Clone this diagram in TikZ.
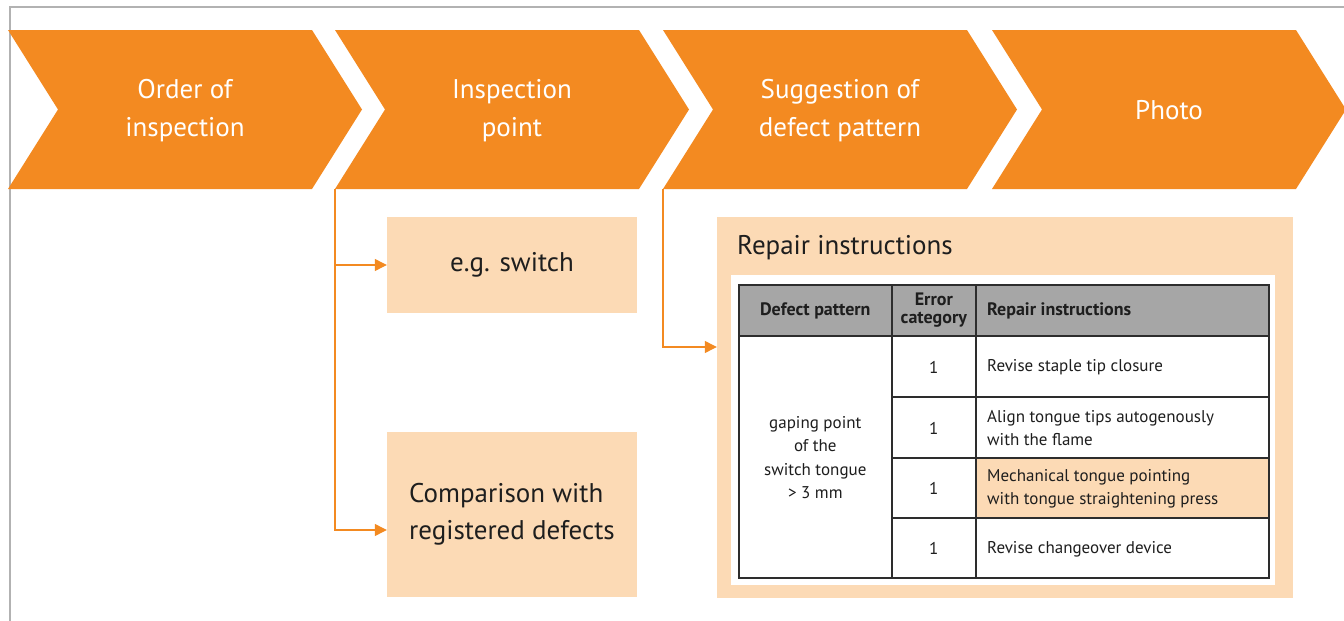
\documentclass[tikz,border=0pt]{standalone}
\usepackage{fontspec}
\setmainfont{PT Sans}
\usetikzlibrary{arrows.meta}

\definecolor{dborange}{RGB}{243,138,33}
\definecolor{peach}{RGB}{252,218,181}
\definecolor{hdrgray}{RGB}{166,166,166}
\definecolor{gridline}{RGB}{45,45,45}
\definecolor{framegray}{RGB}{178,178,178}
\definecolor{ink}{RGB}{30,30,30}

% one step of the process bar: name, left x, label
\newcommand\drawchevron[3]{%
  \fill[dborange] (#2,30) -- ++(304,0) -- ++(50,79.5) -- ++(-50,79.5)
        -- ++(-304,0) -- ++(50,-79.5) -- cycle;
  \node[chevtext] (#1) at (#2+177,110.5) {#3};
  \coordinate (#1-foot) at (#2,189);
}

\begin{document}
\begin{tikzpicture}[x=1pt,y=-1pt,
  chevtext/.style={text=white, font=\fontsize{27}{38}\selectfont, align=center, inner sep=0pt},
  lightbox/.style={fill=peach, draw=none, inner sep=0pt},
  bigtext/.style={font=\fontsize{27}{37}\selectfont, text=ink, align=left},
  cell/.style={draw=gridline, line width=1.6pt, inner sep=0pt, anchor=north west},
  celltext/.style={font=\fontsize{17}{23.5}\selectfont, text=ink, inner sep=0pt},
  headtext/.style={font=\bfseries\fontsize{18}{18.5}\selectfont, text=ink, inner sep=0pt, align=center},
  flow/.style={draw=dborange, line width=1.2pt, -{Triangle[length=12pt,width=12pt]}},
]
\useasboundingbox (0,0) rectangle (1344,621);

% outer frame
\draw[framegray, line width=2pt] (10,621) -- (10,7) -- (1344,7);

% process bar
\drawchevron{c1}{8}{Order of\\inspection}
\drawchevron{c2}{335}{Inspection\\point}
\drawchevron{c3}{663}{Suggestion of\\defect pattern}
\drawchevron{c4}{992}{Photo}

% inspection point boxes
\node[lightbox, minimum width=250, minimum height=96, bigtext] (sw) at (512,265) {e.g. switch};
\node[lightbox, minimum width=250, minimum height=165, bigtext] (cmp) at (512,514.5)
  {Comparison with\\registered defects};

% repair instructions panel
\node[lightbox, minimum width=576, minimum height=381] (rep) at (1005,407.5) {};
\node[fill=white, inner sep=0pt, minimum width=544, minimum height=310] (panel) at (1003,430) {};
\node[bigtext, anchor=west, inner sep=0pt] (reptitle) at (737,247.5) {Repair instructions};

% table: header row
\node[cell, fill=hdrgray, minimum width=153, minimum height=51] (h1) at (738,284) {};
\node[cell, fill=hdrgray, minimum width=84,  minimum height=51] (h2) at (891,284) {};
\node[cell, fill=hdrgray, minimum width=293, minimum height=51] (h3) at (975,284) {};
% table: body
\node[cell, fill=white, minimum width=153, minimum height=242] (d1) at (738,335) {};
\node[cell, fill=white, minimum width=84, minimum height=61] (n1) at (891,335) {};
\node[cell, fill=white, minimum width=84, minimum height=61] (n2) at (891,396) {};
\node[cell, fill=white, minimum width=84, minimum height=60] (n3) at (891,457) {};
\node[cell, fill=white, minimum width=84, minimum height=60] (n4) at (891,517) {};
\node[cell, fill=white, minimum width=293, minimum height=61] (r1) at (975,335) {};
\node[cell, fill=white, minimum width=293, minimum height=61] (r2) at (975,396) {};
\node[cell, fill=peach, minimum width=293, minimum height=60] (r3) at (975,457) {};
\node[cell, fill=white, minimum width=293, minimum height=60] (r4) at (975,517) {};

% table texts
\node[headtext] at ([yshift=-1pt]h1.center) {Defect pattern};
\node[headtext] at (h2.center) {Error\\category};
\node[headtext, anchor=west] at ([xshift=12pt,yshift=-1pt]h3.west) {Repair instructions};
\node[celltext, align=center] at ([yshift=-1pt]d1.center) {gaping point\\of the\\switch tongue\\> 3 mm};
\foreach \c in {n1,n2,n3,n4} \node[celltext] at ([yshift=-1pt]\c.center) {1};
\node[celltext, anchor=west, align=left] at ([xshift=12pt,yshift=-1pt]r1.west) {Revise staple tip closure};
\node[celltext, anchor=west, align=left] at ([xshift=12pt,yshift=-1pt]r2.west) {Align tongue tips autogenously\\with the flame};
\node[celltext, anchor=west, align=left] at ([xshift=12pt,yshift=-1pt]r3.west) {Mechanical tongue pointing\\with tongue straightening press};
\node[celltext, anchor=west, align=left] at ([xshift=12pt,yshift=-1pt]r4.west) {Revise changeover device};

% connectors
\draw[flow] (c2-foot) |- (sw.west);
\draw[flow] (c2-foot) |- ([yshift=-15.5pt]cmp.west);
\draw[flow] (c3-foot) |- ([yshift=60.5pt]rep.west);
\end{tikzpicture}
\end{document}
